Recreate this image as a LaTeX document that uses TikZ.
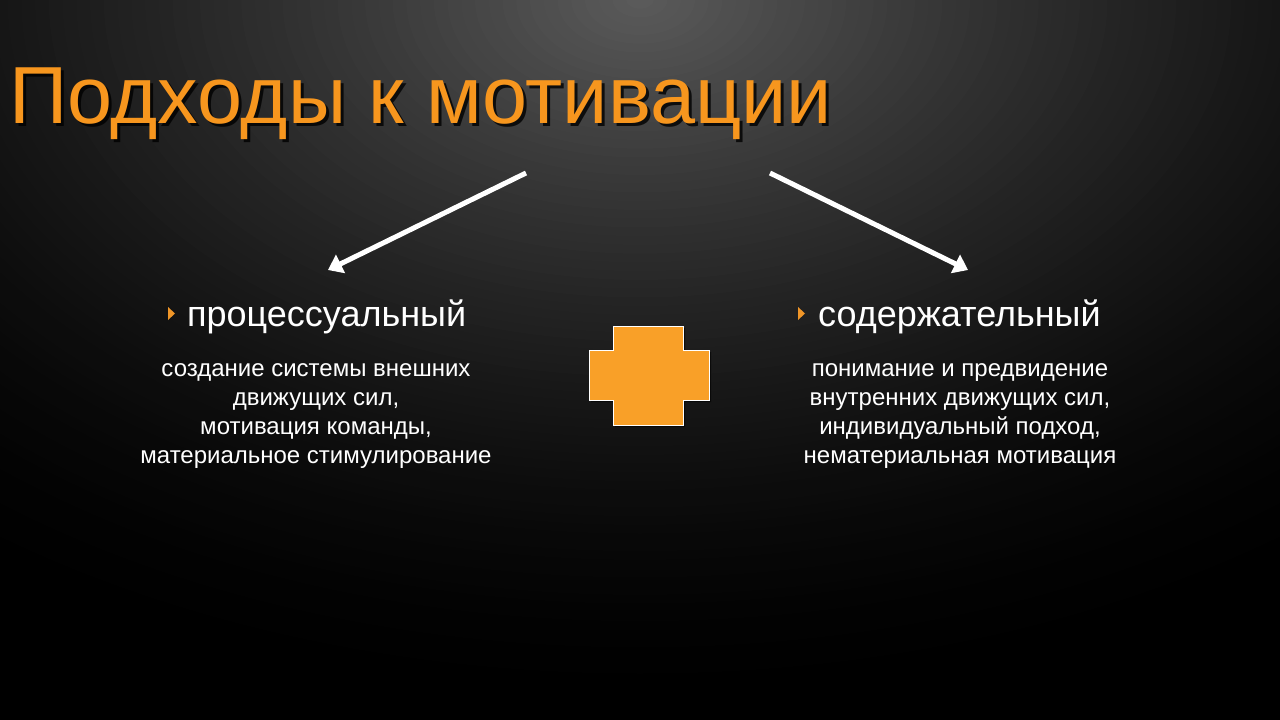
\documentclass[tikz,border=0pt]{standalone}
\usepackage{fontspec}
\setmainfont{Liberation Sans}
\usetikzlibrary{arrows.meta}
\definecolor{ttl}{RGB}{247,150,30}
\definecolor{crossc}{RGB}{249,160,40}
\definecolor{bullc}{RGB}{240,150,40}
\tikzset{
  ttlfont/.style={font=\fontsize{81}{81}\selectfont, inner sep=0pt, anchor=base west},
  head/.style={font=\fontsize{36}{40}\selectfont, text=white, inner sep=0pt, anchor=base west},
  body/.style={font=\fontsize{24}{29}\selectfont, text=white, inner sep=0pt, align=center, anchor=north},
  arr/.style={draw=white, line width=5pt, -{Triangle[length=14pt,width=20pt]}},
  bullet/.style={fill=bullc},
}
\begin{document}
\begin{tikzpicture}[x=1pt,y=-1pt]
\useasboundingbox (0,0) rectangle (1280,720);
\fill[black] (0,0) rectangle (1280,720);
\foreach \i in {80,...,1}{
  \pgfmathsetmacro\t{\i/80}
  \pgfmathsetmacro\p{36*(1-\t)^1.6}
  \fill[white!\p!black] (640,0) ellipse ({1100*\t} and {700*\t});
}
% title
\node[ttlfont, text=black, opacity=0.8] (titleshadow) at (12,126) {Подходы к мотивации};
\node[ttlfont, text=ttl] (title) at (9,123) {Подходы к мотивации};
% arrows
\coordinate (la) at (526,173);
\coordinate (lb) at (328,270);
\coordinate (ra) at (770,173);
\coordinate (rb) at (968,270);
\draw[arr] (la) -- (lb);
\draw[arr] (ra) -- (rb);
% headings
\node[head] (lhead) at (187,326) {процессуальный};
\node[head] (rhead) at (818,326) {содержательный};
\fill[bullet] (168,307) -- (175,313.5) -- (168,320) -- cycle;
\fill[bullet] (798,307) -- (805,313.5) -- (798,320) -- cycle;
% bodies
\node[body] (lbody) at (316,363) {создание системы внешних\\движущих сил,\\мотивация команды,\\материальное стимулирование};
\node[body] (rbody) at (960,363) {понимание и предвидение\\внутренних движущих сил,\\индивидуальный подход,\\нематериальная мотивация};
% cross
\fill[black, opacity=0.6] (615,328) -- (685,328) -- (685,352) -- (711,352) -- (711,402) -- (685,402) -- (685,427) -- (615,427) -- (615,402) -- (591,402) -- (591,352) -- (615,352) -- cycle;
\filldraw[fill=crossc, draw=white, line width=1pt] (613,326) -- (683,326) -- (683,350) -- (709,350) -- (709,400) -- (683,400) -- (683,425) -- (613,425) -- (613,400) -- (589,400) -- (589,350) -- (613,350) -- cycle;
\end{tikzpicture}
\end{document}
